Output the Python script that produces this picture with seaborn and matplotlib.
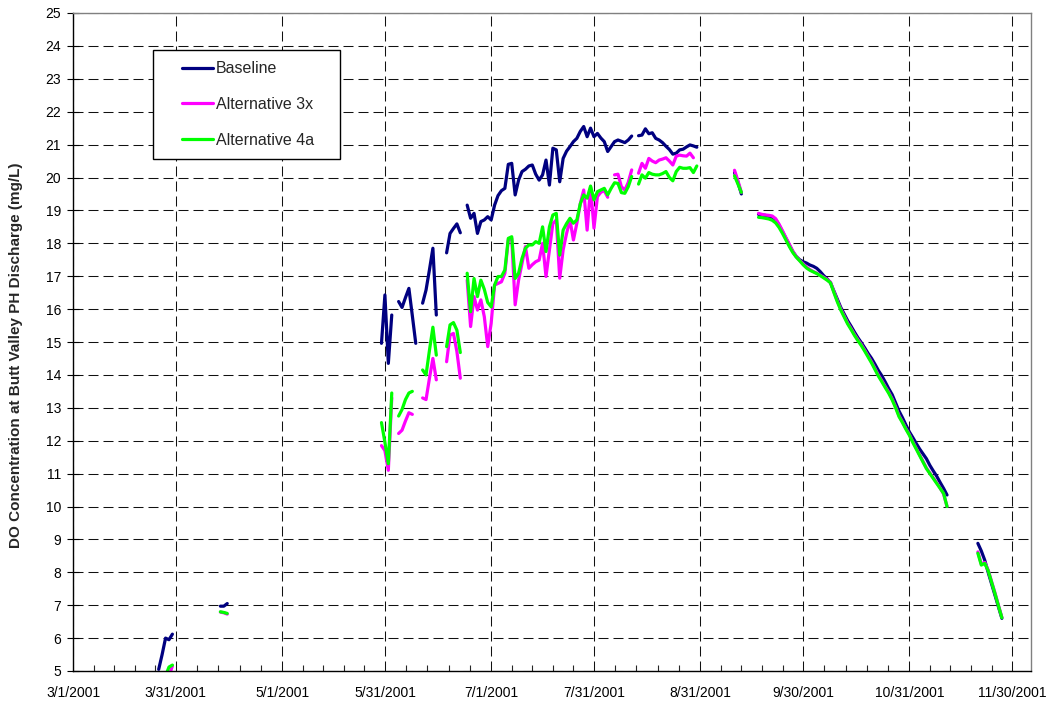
import numpy as np
import pandas as pd
import seaborn as sns
import matplotlib.pyplot as plt
import matplotlib.dates as mdates
from matplotlib.legend_handler import HandlerLine2D
from matplotlib.lines import Line2D

# daily DO values (mg/L), one (start date, values) pair per continuous run
baseline = [
    ("2001-03-26", [5.05, 5.5, 6.0, 5.95, 6.12]),
    ("2001-04-13", [6.97, 6.97, 7.05]),
    ("2001-05-30", [14.96, 16.43, 14.35, 15.82]),
    ("2001-06-04", [16.23, 16.05, 16.35, 16.63, 15.8, 14.96]),
    ("2001-06-11", [16.18, 16.58, 17.2, 17.85, 15.82]),
    ("2001-06-18", [17.71, 18.3, 18.45, 18.59, 18.32]),
    ("2001-06-24", [19.16, 18.76, 18.91, 18.30, 18.66, 18.71, 18.81, 18.71, 19.16, 19.45,
                    19.60, 19.67, 20.40, 20.43, 19.47, 19.92, 20.18, 20.25, 20.35, 20.38,
                    20.10, 19.92, 20.08, 20.53, 19.77, 20.89, 20.84, 19.87, 20.58, 20.80,
                    20.94, 21.09, 21.19, 21.40, 21.55, 21.24, 21.50, 21.24, 21.34, 21.20,
                    21.09, 20.79, 20.94, 21.09, 21.14, 21.10, 21.06, 21.14, 21.26]),
    ("2001-08-13", [21.27, 21.29, 21.48, 21.33, 21.36, 21.19, 21.14, 21.06, 20.95, 20.85,
                    20.71, 20.74, 20.84, 20.86, 20.93, 20.99, 20.96, 20.92]),
    ("2001-09-10", [20.15, 19.85, 19.5]),
    ("2001-09-17", [18.88, 18.86, 18.85, 18.82, 18.79, 18.72, 18.55, 18.35, 18.15, 17.95,
                    17.75, 17.60, 17.50, 17.44, 17.40, 17.34, 17.30, 17.24, 17.14, 17.02,
                    16.92, 16.80, 16.55, 16.30, 16.05, 15.85, 15.65, 15.48, 15.30, 15.13,
                    14.98, 14.82, 14.65, 14.50, 14.32, 14.13, 13.97, 13.78, 13.58, 13.40,
                    13.15, 12.90, 12.70, 12.48, 12.27, 12.10, 11.92, 11.75, 11.60, 11.45,
                    11.25, 11.08, 10.92, 10.73, 10.55, 10.35]),
    ("2001-11-20", [8.88, 8.65, 8.37, 8.0, 7.65, 7.3, 6.95, 6.6]),
]

alt_3x = [
    ("2001-03-29", [4.85, 5.15]),
    ("2001-04-13", [6.79, 6.77, 6.73]),
    ("2001-05-30", [11.85, 11.7, 11.1, 13.3]),
    ("2001-06-04", [12.22, 12.32, 12.6, 12.85, 12.8]),
    ("2001-06-11", [13.3, 13.25, 13.9, 14.5, 13.85]),
    ("2001-06-18", [14.4, 15.21, 15.26, 14.71, 13.9]),
    ("2001-06-24", [16.88, 15.47, 16.38, 15.97, 16.28, 15.77, 14.86, 15.57, 16.73, 16.78,
                    16.83, 17.09, 18.10, 18.15, 16.13, 16.88, 17.39, 17.90, 17.24, 17.35,
                    17.44, 17.49, 18.00, 16.99, 17.80, 18.60, 18.71, 16.94, 17.80, 18.30,
                    18.71, 18.10, 18.61, 19.20, 19.62, 18.40, 19.72, 18.46, 19.42, 19.55,
                    19.60, 19.40]),
    ("2001-08-06", [20.08, 20.10, 19.72, 19.62, 19.85, 20.23]),
    ("2001-08-13", [20.13, 20.43, 20.28, 20.58, 20.50, 20.45, 20.53, 20.56, 20.60, 20.50,
                    20.38, 20.65, 20.68, 20.66, 20.65, 20.74, 20.60]),
    ("2001-09-10", [20.22, 19.9, 19.55]),
    ("2001-09-17", [18.91, 18.88, 18.86, 18.85, 18.83, 18.75, 18.58, 18.38, 18.17, 17.97,
                    17.76, 17.60, 17.48, 17.38, 17.28, 17.20, 17.14, 17.09, 17.03, 16.97,
                    16.90, 16.82, 16.53, 16.25, 16.00, 15.79, 15.58, 15.41, 15.23, 15.07,
                    14.92, 14.75, 14.57, 14.39, 14.19, 13.99, 13.82, 13.64, 13.47, 13.27,
                    13.03, 12.76, 12.57, 12.37, 12.19, 11.97, 11.77, 11.57, 11.37, 11.17,
                    11.02, 10.87, 10.72, 10.56, 10.38, 10.00]),
    ("2001-11-20", [8.62, 8.25, 8.3, 8.07, 7.72, 7.37, 7.0, 6.63]),
]

alt_4a = [
    ("2001-03-28", [4.85, 5.12, 5.18]),
    ("2001-04-13", [6.8, 6.78, 6.75]),
    ("2001-05-30", [12.55, 11.95, 11.3, 13.45]),
    ("2001-06-04", [12.75, 12.95, 13.25, 13.45, 13.5]),
    ("2001-06-11", [14.15, 14.0, 14.75, 15.45, 14.6]),
    ("2001-06-18", [14.86, 15.52, 15.59, 15.36, 14.68]),
    ("2001-06-24", [17.09, 15.92, 16.93, 16.38, 16.88, 16.60, 16.20, 16.07, 16.73, 16.99,
                    16.99, 17.19, 18.15, 18.20, 16.93, 17.09, 17.54, 17.85, 17.95, 17.95,
                    18.05, 18.00, 18.50, 17.75, 18.50, 18.86, 18.91, 17.64, 18.40, 18.60,
                    18.76, 18.61, 18.71, 19.20, 19.47, 19.37, 19.74, 19.32, 19.57, 19.62,
                    19.67, 19.47, 19.67, 19.84, 19.82, 19.54, 19.52, 19.72, 20.03]),
    ("2001-08-13", [19.80, 20.08, 19.98, 20.15, 20.10, 20.08, 20.08, 20.12, 20.18, 20.00,
                    19.90, 20.18, 20.31, 20.28, 20.28, 20.30, 20.15, 20.35]),
    ("2001-09-10", [20.05, 19.8, 19.55]),
    ("2001-09-17", [18.79, 18.78, 18.76, 18.74, 18.70, 18.62, 18.48, 18.30, 18.10, 17.90,
                    17.72, 17.58, 17.47, 17.35, 17.25, 17.18, 17.13, 17.08, 17.02, 16.95,
                    16.88, 16.80, 16.50, 16.22, 15.97, 15.76, 15.55, 15.38, 15.20, 15.04,
                    14.89, 14.72, 14.54, 14.36, 14.16, 13.96, 13.79, 13.61, 13.44, 13.24,
                    13.00, 12.73, 12.55, 12.35, 12.17, 11.95, 11.75, 11.55, 11.35, 11.15,
                    11.00, 10.85, 10.70, 10.55, 10.40, 10.00]),
    ("2001-11-20", [8.58, 8.22, 8.27, 8.05, 7.7, 7.35, 6.98, 6.62]),
]

series_names = ["Baseline", "Alternative 3x", "Alternative 4a"]
series_colors = ["#000080", "#FF00FF", "#00FF00"]
tick_dates = ["2001-03-01", "2001-03-31", "2001-05-01", "2001-05-31", "2001-07-01",
              "2001-07-31", "2001-08-31", "2001-09-30", "2001-10-31", "2001-11-30"]

# long table, one "run" id per continuous piece so gaps stay open
rows = []
for name, segs in zip(series_names, [baseline, alt_3x, alt_4a]):
    for k, (start, vals) in enumerate(segs):
        for d, v in zip(pd.date_range(start, periods=len(vals), freq="D"), vals):
            rows.append((name, f"{name} {k}", d, v))
df = pd.DataFrame(rows, columns=["series", "run", "date", "do"])

sns.set_style("white")
plt.rcParams["font.family"] = ["Liberation Sans", "DejaVu Sans"]

fig, ax = plt.subplots(figsize=(10.55, 7.10), dpi=100)
fig.subplots_adjust(left=73/1055, right=1031/1055, bottom=1-671/710, top=1-13/710)

palette = dict(zip(series_names, series_colors))
sns.lineplot(data=df, x="date", y="do", hue="series", units="run", estimator=None,
             hue_order=series_names, palette=palette, linewidth=2.3, legend=False, ax=ax)

# axes range / ticks
x0 = pd.Timestamp("2001-03-01")
ax.set_xlim(x0, x0 + pd.Timedelta(days=279.5))
ax.set_ylim(5, 25)
ax.set_yticks(range(5, 26))

major = pd.to_datetime(tick_dates)
ax.set_xticks(major)
ax.set_xticklabels([f"{d.month}/{d.day}/{d.year}" for d in major])
mnum = mdates.date2num(major)
minor = np.concatenate([np.linspace(a, b, 6)[1:-1] for a, b in zip(mnum[:-1], mnum[1:])])
ax.set_xticks(minor, minor=True)

ax.tick_params(axis="x", which="major", direction="in", length=5, width=0.8, pad=11,
               labelsize=10, colors="black")
ax.tick_params(axis="x", which="minor", direction="in", length=4, width=0.8, bottom=True)
ax.tick_params(axis="y", which="major", direction="inout", length=9, width=0.8, pad=4,
               labelsize=10, left=True, colors="black")

ax.grid(True, which="major", color="#111111", linestyle=(0, (9.6, 4.8)), linewidth=0.75)
ax.set_axisbelow(True)

for side in ["left", "bottom"]:
    ax.spines[side].set_color("black")
    ax.spines[side].set_linewidth(1.0)
for side in ["top", "right"]:
    ax.spines[side].set_color("#808080")
    ax.spines[side].set_linewidth(1.0)

ax.set_xlabel("")
ax.set_ylabel("DO Concentration at Butt Valley PH Discharge (mg/L)", fontsize=11,
              fontweight="bold")
ax.yaxis.set_label_coords(-0.052, 0.48)


class ShortLine(HandlerLine2D):
    # Excel style key: the line only fills the right part of the handle box
    def get_xdata(self, legend, xdescent, ydescent, width, height, fontsize):
        xs = np.array([-xdescent + 0.37 * width, -xdescent + width])
        return xs, xs


handles = [Line2D([], [], color=c, linewidth=2.3) for c in series_colors]
leg = ax.legend(handles, series_names, loc="upper left",
                bbox_to_anchor=(0.0835, 0.8438, 0.1952, 0.1), mode="expand",
                borderaxespad=0, fontsize=11.5, frameon=True, fancybox=False,
                edgecolor="black", framealpha=1, borderpad=0.7, handlelength=3.06,
                handletextpad=0.19, labelspacing=1.3,
                handler_map={Line2D: ShortLine()})
leg.get_frame().set_linewidth(1.0)

plt.savefig("out.png", dpi=100)
